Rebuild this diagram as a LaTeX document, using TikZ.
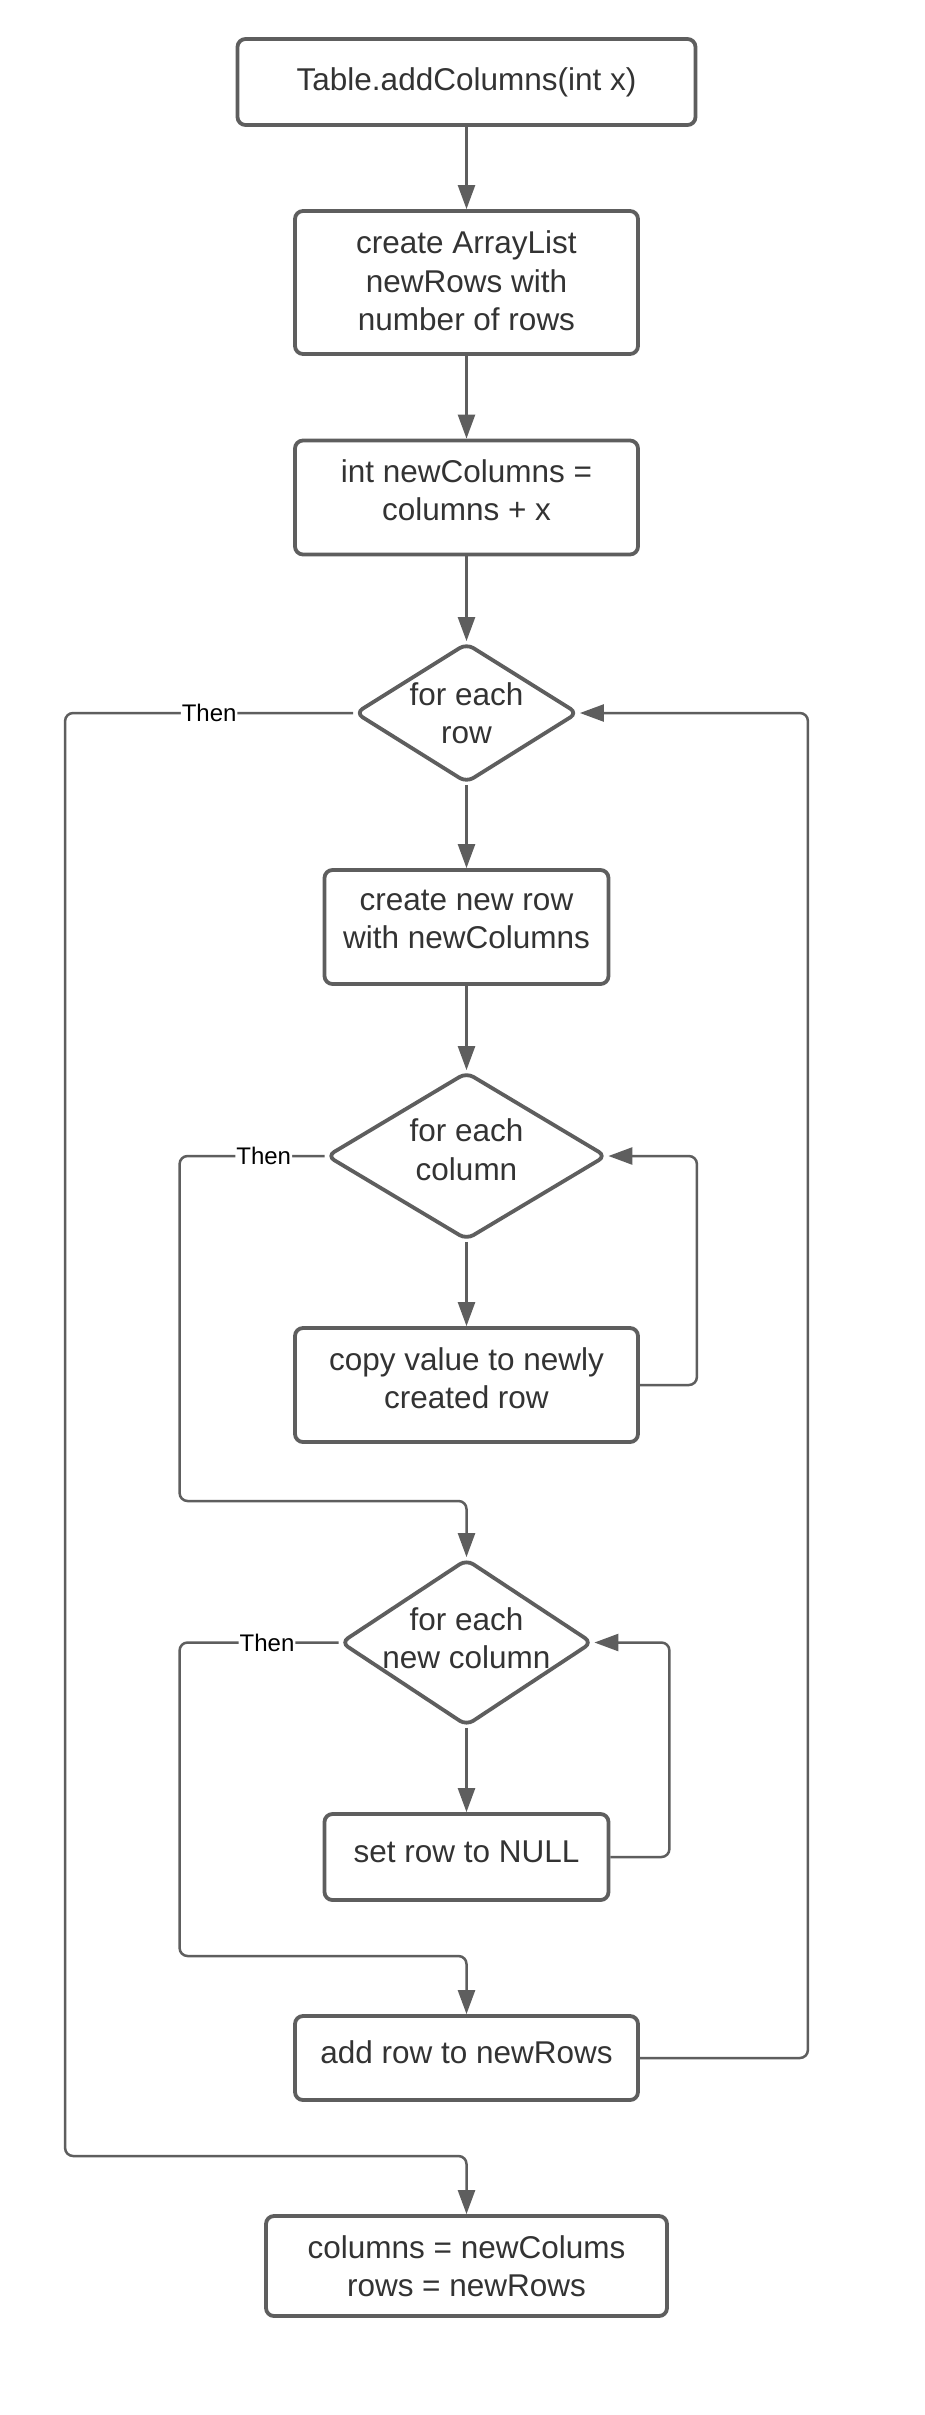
\documentclass[tikz,border=0pt]{standalone}
\usepackage{fontspec}
\setmainfont{Liberation Sans}
\usetikzlibrary{shapes.geometric,arrows.meta}
\definecolor{lc}{HTML}{5E5E5E}
\definecolor{tc}{HTML}{333333}
\begin{document}
\begin{tikzpicture}[x=1pt,y=-1pt,
  box/.style={draw=lc, line width=3.8pt, rounded corners=8pt, fill=white, inner sep=0pt},
  dia/.style={draw=lc, line width=3.8pt, diamond, rounded corners=8pt, inner sep=0pt, fill=white},
  txt/.style={align=center, text=tc, inner sep=0pt, font=\fontsize{31.5}{38.5}\selectfont},
  conn/.style={draw=lc, line width=2.5pt, rounded corners=8pt, -{Triangle[length=24pt,width=17pt]}},
  thenlbl/.style={fill=white, text=black, inner sep=1pt, font=\fontsize{24}{28}\selectfont}]
\useasboundingbox[fill=white] (0,0) rectangle (924,2415);

% shapes
\node[box, minimum width=458pt, minimum height=86pt] (top) at (466.5,82) {};
\node[box, minimum width=343pt, minimum height=143pt] (list) at (466.5,282.5) {};
\node[box, minimum width=343pt, minimum height=114pt] (ncol) at (466.5,497.5) {};
\node[dia, minimum width=223pt, minimum height=140pt] (row) at (466.5,713) {};
\node[box, minimum width=284pt, minimum height=114pt] (newrow) at (466.5,927) {};
\node[dia, minimum width=280pt, minimum height=168pt] (col) at (466.5,1156) {};
\node[box, minimum width=343pt, minimum height=114pt] (copy) at (466.5,1385) {};
\node[dia, minimum width=252pt, minimum height=167pt] (ncl) at (466.5,1642.5) {};
\node[box, minimum width=284pt, minimum height=86pt] (setrow) at (466.5,1857) {};
\node[box, minimum width=343pt, minimum height=84pt] (addrow) at (466.5,2058) {};
\node[box, minimum width=401pt, minimum height=100pt] (final) at (466.5,2266) {};

% texts
\node[txt] (topt) at ([yshift=-0.5pt]top.center) {Table.addColumns(int x)};
\node[txt] (listt) at ([yshift=1.5pt]list.center) {create ArrayList\\newRows with\\number of rows};
\node[txt] (ncolt) at ([yshift=7.3pt]ncol.center) {int newColumns =\\columns + x};
\node[txt] (rowt) at ([yshift=-0.3pt]row.center) {for each\\row};
\node[txt] (newrowt) at ([yshift=7.5pt]newrow.center) {create new row\\with newColumns};
\node[txt] (colt) at ([yshift=6.5pt]col.center) {for each\\column};
\node[txt] (copyt) at ([yshift=6.7pt]copy.center) {copy value to newly\\created row};
\node[txt] (nclt) at ([yshift=4.5pt]ncl.center) {for each\\new column};
\node[txt] (setrowt) at ([yshift=5pt]setrow.center) {set row to NULL};
\node[txt] (addrowt) at ([yshift=6pt]addrow.center) {add row to newRows};
\node[txt] (finalt) at (final.center) {columns = newColums\\rows = newRows};

% straight connectors
\draw[conn] (top) -- (list);
\draw[conn] (list) -- (ncol);
\draw[conn] (ncol) -- (row.north);
\draw[conn] (row.south) -- (newrow);
\draw[conn] (newrow) -- (col.north);
\draw[conn] (col.south) -- (copy);
\draw[conn] (ncl.south) -- (setrow);

% loops back
\draw[conn] (copy.east) -- ++(57,0) |- (col.east);
\draw[conn] (setrow.east) -- ++(59,0) |- (ncl.east);
\draw[conn] (addrow.east) -- ++(168,0) |- (row.east);

% exits
\draw[conn] (col.west) -- node[thenlbl, pos=0.42] (then2) {Then} ++(-145,0) -- ++(0,345) -| (ncl.north);
\draw[conn] (ncl.west) -- node[thenlbl, pos=0.45] (then3) {Then} ++(-159,0) -- ++(0,313.5) -| (addrow.north);
\draw[conn] (row.west) -- node[thenlbl, pos=0.5] (then1) {Then} ++(-288,0) -- ++(0,1443) -| (final.north);
\end{tikzpicture}
\end{document}
